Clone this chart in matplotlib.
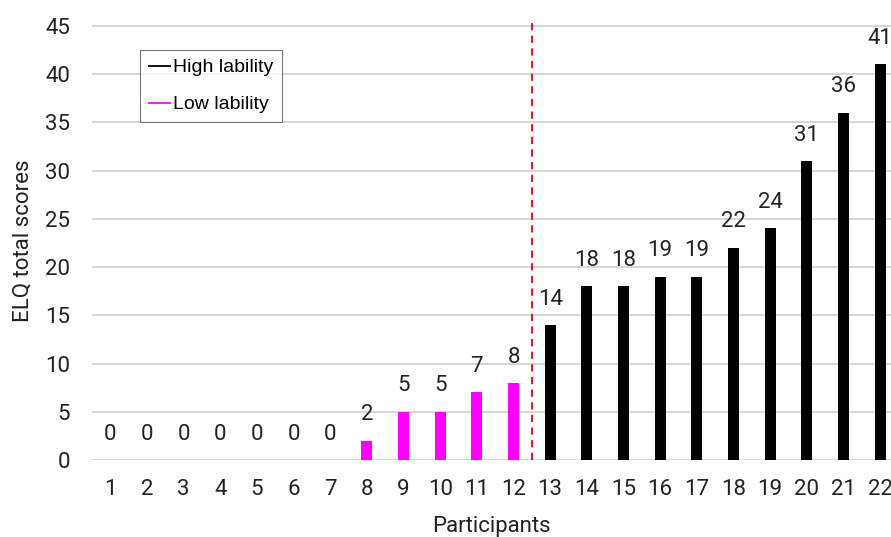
import matplotlib
matplotlib.use("Agg")
import matplotlib.pyplot as plt
from matplotlib.lines import Line2D

plt.rcParams['font.family'] = ['Roboto', 'DejaVu Sans']

participants = list(range(1, 23))
scores = [0, 0, 0, 0, 0, 0, 0, 2, 5, 5, 7, 8, 14, 18, 18, 19, 19, 22, 24, 31, 36, 41]
groups = ["Low"] * 12 + ["High"] * 10
group_colors = {"Low": "#FF00FF", "High": "#000000"}
y_ticks = [0, 5, 10, 15, 20, 25, 30, 35, 40, 45]

fig = plt.figure(figsize=(8.91, 5.37), dpi=100)
ax = fig.add_axes([0.1033, 0.1434, 0.8967, 0.8156])

colors = [group_colors[g] for g in groups]
ax.bar(participants, scores, width=0.3, color=colors, zorder=3)

for x, v in zip(participants, scores):
    ax.annotate(str(v), (x, v), xytext=(0, 11), textcoords="offset points",
                ha="center", va="bottom", fontsize=16, color="#222222")

ax.axvline(12.5, color="#E8000B", linestyle=(0, (4, 3)), linewidth=1.3, zorder=4)

ax.set_xlim(0.5, 22.3)
ax.set_ylim(0, 45.4)
ax.set_yticks(y_ticks)
ax.set_xticks(participants)
ax.tick_params(length=0, labelsize=16, colors="#222222")
ax.tick_params(axis="x", pad=14)
ax.tick_params(axis="y", pad=16)
ax.grid(axis="y", color="#D0D0D0", linewidth=1.2, zorder=0)
for s in ax.spines.values():
    s.set_visible(False)

ax.set_xlabel("Participants", fontsize=16, color="#222222", labelpad=11)
ax.set_ylabel("ELQ total scores", fontsize=16, color="#222222", labelpad=8)

handles = [Line2D([0], [0], color=group_colors["High"], lw=1.3),
           Line2D([0], [0], color=group_colors["Low"], lw=1.3)]
leg = ax.legend(handles, ["High lability", "Low lability"], loc="upper left",
                bbox_to_anchor=(0.06, 0.936), frameon=True,
                fancybox=False, edgecolor="#555555", handlelength=1.1,
                handletextpad=0.15, borderpad=0.45, labelspacing=1.0,
                borderaxespad=0, prop={'family': ['Liberation Sans', 'DejaVu Sans'], 'size': 14})
leg.get_frame().set_linewidth(0.8)

fig.savefig("out.png", dpi=100)
